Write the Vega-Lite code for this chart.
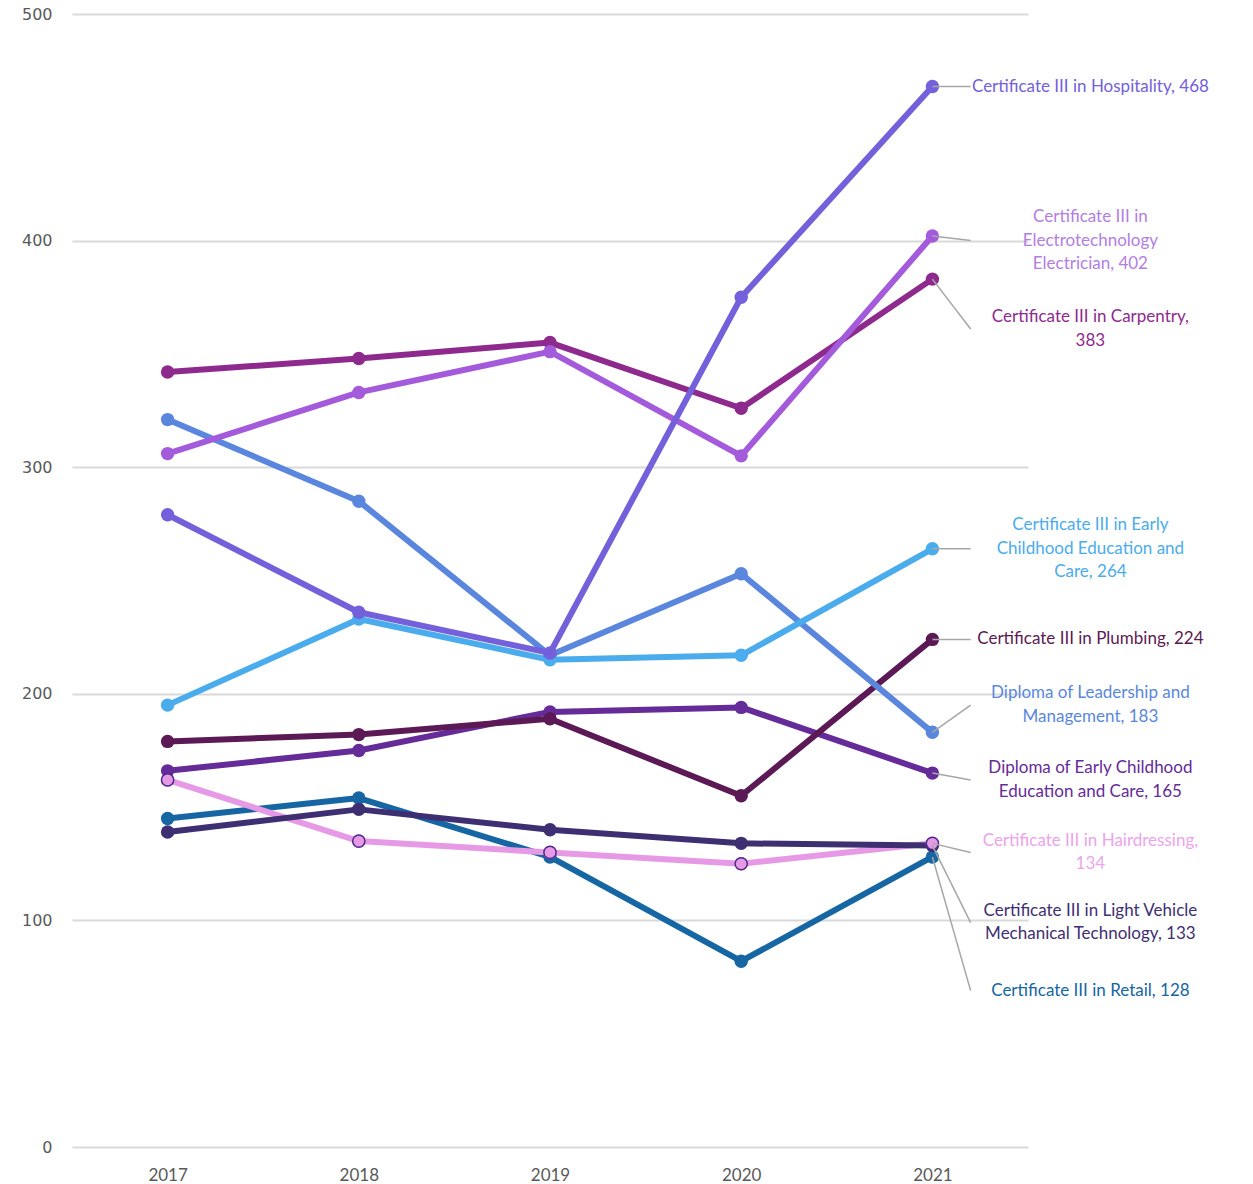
{
  "$schema": "https://vega.github.io/schema/vega-lite/v6.json",
  "width": 956,
  "height": 1133,
  "autosize": {"type": "none"},
  "padding": {"left": 72, "top": 14, "right": 225, "bottom": 37},
  "background": "white",
  "config": {
    "view": {"stroke": null},
    "axis": {"title": null, "domain": false, "ticks": false, "labelColor": "#595959"}
  },
  "datasets": {
    "enrolments": [
      {"course": "Certificate III in Retail", "year": 2017, "value": 145},
      {"course": "Certificate III in Retail", "year": 2018, "value": 154},
      {"course": "Certificate III in Retail", "year": 2019, "value": 128},
      {"course": "Certificate III in Retail", "year": 2020, "value": 82},
      {"course": "Certificate III in Retail", "year": 2021, "value": 128},
      {"course": "Certificate III in Hairdressing", "year": 2017, "value": 162},
      {"course": "Certificate III in Hairdressing", "year": 2018, "value": 135},
      {"course": "Certificate III in Hairdressing", "year": 2019, "value": 130},
      {"course": "Certificate III in Hairdressing", "year": 2020, "value": 125},
      {"course": "Certificate III in Hairdressing", "year": 2021, "value": 134},
      {"course": "Certificate III in Light Vehicle Mechanical Technology", "year": 2017, "value": 139},
      {"course": "Certificate III in Light Vehicle Mechanical Technology", "year": 2018, "value": 149},
      {"course": "Certificate III in Light Vehicle Mechanical Technology", "year": 2019, "value": 140},
      {"course": "Certificate III in Light Vehicle Mechanical Technology", "year": 2020, "value": 134},
      {"course": "Certificate III in Light Vehicle Mechanical Technology", "year": 2021, "value": 133},
      {"course": "Diploma of Early Childhood Education and Care", "year": 2017, "value": 166},
      {"course": "Diploma of Early Childhood Education and Care", "year": 2018, "value": 175},
      {"course": "Diploma of Early Childhood Education and Care", "year": 2019, "value": 192},
      {"course": "Diploma of Early Childhood Education and Care", "year": 2020, "value": 194},
      {"course": "Diploma of Early Childhood Education and Care", "year": 2021, "value": 165},
      {"course": "Certificate III in Plumbing", "year": 2017, "value": 179},
      {"course": "Certificate III in Plumbing", "year": 2018, "value": 182},
      {"course": "Certificate III in Plumbing", "year": 2019, "value": 189},
      {"course": "Certificate III in Plumbing", "year": 2020, "value": 155},
      {"course": "Certificate III in Plumbing", "year": 2021, "value": 224},
      {"course": "Diploma of Leadership and Management", "year": 2017, "value": 321},
      {"course": "Diploma of Leadership and Management", "year": 2018, "value": 285},
      {"course": "Diploma of Leadership and Management", "year": 2019, "value": 217},
      {"course": "Diploma of Leadership and Management", "year": 2020, "value": 253},
      {"course": "Diploma of Leadership and Management", "year": 2021, "value": 183},
      {"course": "Certificate III in Early Childhood Education and Care", "year": 2017, "value": 195},
      {"course": "Certificate III in Early Childhood Education and Care", "year": 2018, "value": 233},
      {"course": "Certificate III in Early Childhood Education and Care", "year": 2019, "value": 215},
      {"course": "Certificate III in Early Childhood Education and Care", "year": 2020, "value": 217},
      {"course": "Certificate III in Early Childhood Education and Care", "year": 2021, "value": 264},
      {"course": "Certificate III in Carpentry", "year": 2017, "value": 342},
      {"course": "Certificate III in Carpentry", "year": 2018, "value": 348},
      {"course": "Certificate III in Carpentry", "year": 2019, "value": 355},
      {"course": "Certificate III in Carpentry", "year": 2020, "value": 326},
      {"course": "Certificate III in Carpentry", "year": 2021, "value": 383},
      {"course": "Certificate III in Electrotechnology Electrician", "year": 2017, "value": 306},
      {"course": "Certificate III in Electrotechnology Electrician", "year": 2018, "value": 333},
      {"course": "Certificate III in Electrotechnology Electrician", "year": 2019, "value": 351},
      {"course": "Certificate III in Electrotechnology Electrician", "year": 2020, "value": 305},
      {"course": "Certificate III in Electrotechnology Electrician", "year": 2021, "value": 402},
      {"course": "Certificate III in Hospitality", "year": 2017, "value": 279},
      {"course": "Certificate III in Hospitality", "year": 2018, "value": 236},
      {"course": "Certificate III in Hospitality", "year": 2019, "value": 218},
      {"course": "Certificate III in Hospitality", "year": 2020, "value": 375},
      {"course": "Certificate III in Hospitality", "year": 2021, "value": 468}
    ],
    "endLabels": [
      {"course": "Certificate III in Hospitality", "year": 2021, "value": 468, "labelAt": 468, "label": "Certificate III in Hospitality, 468"},
      {"course": "Certificate III in Electrotechnology Electrician", "year": 2021, "value": 402, "labelAt": 400, "label": "Certificate III in\nElectrotechnology\nElectrician, 402"},
      {"course": "Certificate III in Carpentry", "year": 2021, "value": 383, "labelAt": 361, "label": "Certificate III in Carpentry,\n383"},
      {"course": "Certificate III in Early Childhood Education and Care", "year": 2021, "value": 264, "labelAt": 264, "label": "Certificate III in Early\nChildhood Education and\nCare, 264"},
      {"course": "Certificate III in Plumbing", "year": 2021, "value": 224, "labelAt": 224, "label": "Certificate III in Plumbing, 224"},
      {"course": "Diploma of Leadership and Management", "year": 2021, "value": 183, "labelAt": 195, "label": "Diploma of Leadership and\nManagement, 183"},
      {"course": "Diploma of Early Childhood Education and Care", "year": 2021, "value": 165, "labelAt": 162, "label": "Diploma of Early Childhood\nEducation and Care, 165"},
      {"course": "Certificate III in Hairdressing", "year": 2021, "value": 134, "labelAt": 130, "label": "Certificate III in Hairdressing,\n134"},
      {"course": "Certificate III in Light Vehicle Mechanical Technology", "year": 2021, "value": 133, "labelAt": 99, "label": "Certificate III in Light Vehicle\nMechanical Technology, 133"},
      {"course": "Certificate III in Retail", "year": 2021, "value": 128, "labelAt": 69, "label": "Certificate III in Retail, 128"}
    ]
  },
  "encoding": {
    "x": {
      "field": "year",
      "type": "quantitative",
      "scale": {"domain": [2016.5, 2021.5], "nice": false, "zero": false},
      "axis": {"values": [2017, 2018, 2019, 2020, 2021], "format": "d", "grid": false, "labelPadding": 20, "labelFont": "Lato", "labelFontSize": 17}
    },
    "y": {
      "field": "value",
      "type": "quantitative",
      "scale": {"domain": [0, 500], "nice": false},
      "axis": {"values": [0, 100, 200, 300, 400, 500], "grid": true, "gridColor": "#d9d9d9", "gridWidth": 2, "labelPadding": 20, "labelFont": "DejaVu Sans", "labelFontSize": 16}
    },
    "color": {
      "field": "course",
      "type": "nominal",
      "legend": null,
      "scale": {
        "domain": [
          "Certificate III in Retail",
          "Certificate III in Hairdressing",
          "Certificate III in Light Vehicle Mechanical Technology",
          "Diploma of Early Childhood Education and Care",
          "Certificate III in Plumbing",
          "Diploma of Leadership and Management",
          "Certificate III in Early Childhood Education and Care",
          "Certificate III in Carpentry",
          "Certificate III in Electrotechnology Electrician",
          "Certificate III in Hospitality"
        ],
        "range": ["#1566a3", "#e69ae6", "#3e2f72", "#652b98", "#5b1a55", "#5a87dd", "#4aacec", "#8e2a8e", "#a35bdb", "#7460da"]
      }
    }
  },
  "layer": [
    {
      "data": {"name": "enrolments"},
      "mark": {"type": "line", "strokeWidth": 6, "strokeCap": "round", "strokeJoin": "round"}
    },
    {
      "data": {"name": "enrolments"},
      "mark": {"type": "point", "shape": "circle", "filled": true, "size": 180, "opacity": 1}
    },
    {
      "data": {"name": "enrolments"},
      "transform": [{"filter": "datum.course === 'Certificate III in Hairdressing'"}],
      "mark": {"type": "point", "shape": "circle", "filled": true, "size": 150, "opacity": 1, "fill": "#e69ae6", "stroke": "#4b2a8a", "strokeWidth": 1.5},
      "encoding": {"color": {"value": "#e69ae6"}}
    },
    {
      "data": {"name": "endLabels"},
      "mark": {"type": "rule", "strokeWidth": 1.5},
      "encoding": {
        "x2": {"datum": 2021.2},
        "y2": {"field": "labelAt"},
        "color": {"value": "#a6a6a6"}
      }
    },
    {
      "data": {"name": "endLabels"},
      "transform": [
        {"calculate": "length(split(datum.label, '\\n'))", "as": "lines"},
        {"calculate": "datum.labelAt + (datum.lines - 1) * 5.19", "as": "firstLineAt"}
      ],
      "mark": {"type": "text", "dx": 158, "align": "center", "baseline": "middle", "lineBreak": "\n", "lineHeight": 23.5, "font": "Lato", "fontSize": 17},
      "encoding": {
        "y": {"field": "firstLineAt", "type": "quantitative"},
        "text": {"field": "label"},
        "color": {
          "condition": [
            {"test": "datum.course === 'Certificate III in Electrotechnology Electrician'", "value": "#b27ee2"},
            {"test": "datum.course === 'Certificate III in Hairdressing'", "value": "#eca4ec"}
          ],
          "field": "course",
          "type": "nominal"
        }
      }
    }
  ]
}
